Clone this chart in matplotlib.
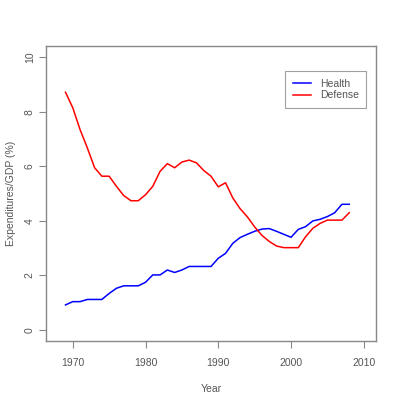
import matplotlib
matplotlib.use("Agg")
import matplotlib.pyplot as plt

years = list(range(1969, 2009))
health = [0.92, 1.04, 1.04, 1.12, 1.12, 1.12, 1.34, 1.53, 1.62, 1.62,
          1.62, 1.75, 2.02, 2.02, 2.2, 2.11, 2.2, 2.33, 2.33, 2.33,
          2.33, 2.63, 2.81, 3.18, 3.39, 3.51, 3.62, 3.7, 3.72, 3.62,
          3.51, 3.4, 3.69, 3.79, 4.0, 4.06, 4.16, 4.3, 4.61, 4.61]
defense = [8.72, 8.15, 7.35, 6.68, 5.95, 5.64, 5.64, 5.27, 4.93, 4.74,
           4.74, 4.96, 5.27, 5.82, 6.1, 5.95, 6.16, 6.23, 6.13, 5.85,
           5.64, 5.25, 5.4, 4.84, 4.45, 4.15, 3.78, 3.47, 3.25, 3.08,
           3.02, 3.02, 3.02, 3.42, 3.73, 3.91, 4.03, 4.03, 4.03, 4.3]
xticks = [1970, 1980, 1990, 2000, 2010]
yticks = [0, 2, 4, 6, 8, 10]

gray = "#555555"
axcol = "#888888"
plt.rcParams['font.family'] = ['Liberation Sans', 'DejaVu Sans']

fig = plt.figure(figsize=(4.0, 3.99), dpi=100)
ax = fig.add_axes([0.115, 0.1456, 0.825, 0.7381])
ax.plot(years, health, color="blue", lw=1.1, label="Health")
ax.plot(years, defense, color="red", lw=1.1, label="Defense")

ext_x = 0.04 * (2010 - 1968)
ax.set_xlim(1968 - ext_x, 2010 + ext_x)
ax.set_ylim(-0.4, 10.4)
ax.set_xticks(xticks)
ax.set_yticks(yticks)
ax.set_yticklabels([str(v) for v in yticks], rotation=90, va="center")
for s in ax.spines.values():
    s.set_color(axcol)
    s.set_linewidth(1.0)
ax.tick_params(direction="out", length=5, width=0.8, color=axcol,
               labelcolor=gray, labelsize=7.5)
ax.tick_params(axis="x", pad=7)
ax.tick_params(axis="y", pad=3)
ax.set_xlabel("Year", color=gray, fontsize=7.5, labelpad=12)
ax.set_ylabel("Expenditures/GDP (%)", color=gray, fontsize=7.5, labelpad=10)
ax.yaxis.set_label_coords(-0.09, 0.5)

leg = ax.legend(loc="upper right", bbox_to_anchor=(0.97, 0.915), fontsize=7.5,
                frameon=True, fancybox=False, edgecolor=axcol,
                handlelength=1.8, borderpad=0.7, labelspacing=0.15,
                handletextpad=0.8, borderaxespad=0)
leg.get_frame().set_linewidth(0.8)
for t in leg.get_texts():
    t.set_color(gray)

fig.savefig("out.png", dpi=100)
